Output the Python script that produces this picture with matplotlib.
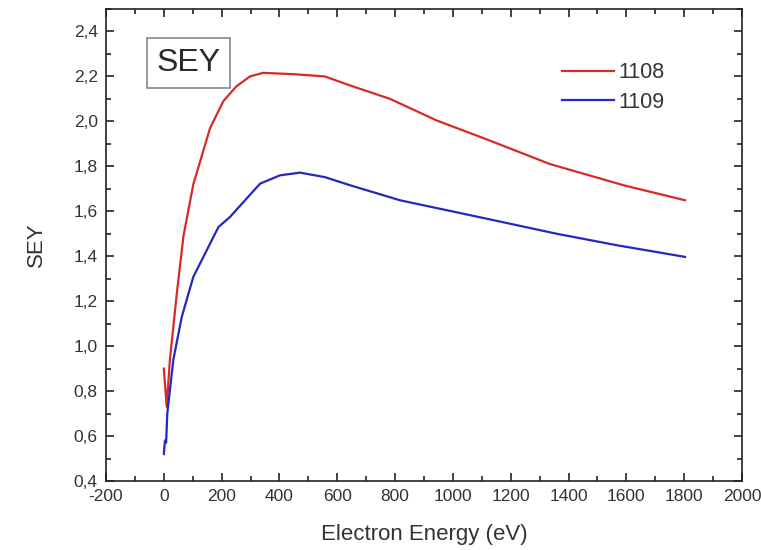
import matplotlib.pyplot as plt
from matplotlib.ticker import MultipleLocator, FuncFormatter

plt.rcParams['font.family'] = ['Liberation Sans', 'DejaVu Sans']
plt.rcParams['axes.unicode_minus'] = False

# 1108 样品
e_1108 = [0, 10, 21, 45, 68, 102, 160, 206, 250, 298, 343, 450, 557, 644, 783, 944,
          1117, 1336, 1590, 1803]
sey_1108 = [0.90, 0.73, 0.94, 1.235, 1.49, 1.72, 1.97, 2.09, 2.155, 2.20, 2.216, 2.21,
            2.20, 2.16, 2.10, 2.004, 1.92, 1.81, 1.716, 1.649]

# 1109 样品
e_1109 = [0, 4, 8, 12, 33, 62, 102, 189, 229, 333, 402, 471, 557, 644, 817, 1117,
          1359, 1567, 1803]
sey_1109 = [0.52, 0.58, 0.57, 0.70, 0.94, 1.13, 1.308, 1.53, 1.575, 1.723, 1.76, 1.772,
            1.752, 1.716, 1.649, 1.567, 1.50, 1.449, 1.397]

txt = '#2a2a2a'

fig = plt.figure(figsize=(7.61, 5.5), dpi=100)
ax = fig.add_axes([0.1393, 0.1255, 0.8357, 0.8581])

ax.plot(e_1108, sey_1108, color='#d62a2a', lw=1.6, label='1108')
ax.plot(e_1109, sey_1109, color='#2626c0', lw=1.6, label='1109')

ax.set_xlim(-200, 2000)
ax.set_ylim(0.4, 2.5)
ax.xaxis.set_major_locator(MultipleLocator(200))
ax.xaxis.set_minor_locator(MultipleLocator(100))
ax.yaxis.set_major_locator(MultipleLocator(0.2))
ax.yaxis.set_minor_locator(MultipleLocator(0.1))
ax.yaxis.set_major_formatter(FuncFormatter(lambda v, p: f'{v:.1f}'.replace('.', ',')))

ax.tick_params(which='both', direction='in', top=True, right=True, colors='#222222',
               labelsize=12.5, labelcolor='#333333', width=1.2)
ax.tick_params(which='major', length=6, pad=6)
ax.tick_params(which='minor', length=3.5)
for s in ax.spines.values():
    s.set_linewidth(1.2)
    s.set_color('#222222')

ax.set_xlabel('Electron Energy (eV)', fontsize=16, color='#333333', labelpad=14)
ax.set_ylabel('SEY', fontsize=16, color='#333333', labelpad=19)

ax.text(0.1297, 0.8856, 'SEY', transform=ax.transAxes, fontsize=23, color=txt,
        ha='center', va='center',
        bbox=dict(boxstyle='square,pad=0.3', fc='white', ec='#888888', lw=1.2))

ax.legend(loc='upper left', bbox_to_anchor=(0.70, 0.91), frameon=False,
          fontsize=15.5, handlelength=2.4, handletextpad=0.2, borderpad=0,
          labelspacing=0.4, labelcolor='#333333')

plt.savefig('out.png', dpi=100)
plt.close()
